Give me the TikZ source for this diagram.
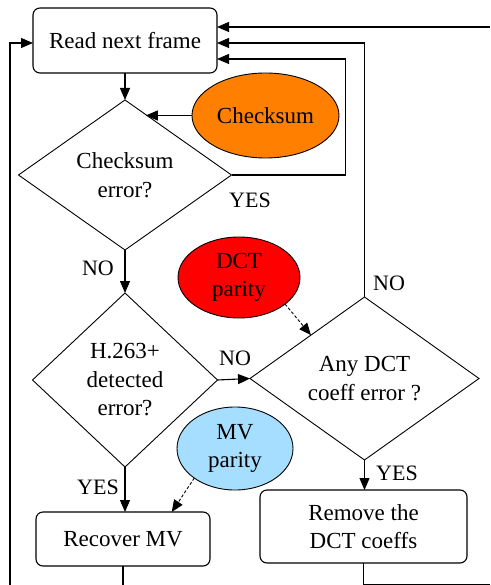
\documentclass[tikz,border=0pt]{standalone}
\usepackage{fontspec}
\setmainfont{LiberationSerif}[Extension=.ttf, UprightFont=*-Regular]
\usetikzlibrary{shapes.geometric,arrows.meta,calc}
\definecolor{csorange}{RGB}{255,128,0}
\definecolor{dctred}{RGB}{255,0,0}
\definecolor{mvblue}{RGB}{166,222,255}

\begin{document}
\begin{tikzpicture}[x=1pt,y=-1pt,
  font=\rmfamily\fontsize{23}{28.5}\selectfont,
  every node/.style={inner sep=0pt, outer sep=0pt},
  stepbox/.style={draw, rounded corners=7pt, line width=1.1pt, align=center},
  decision/.style={draw, diamond, aspect=1.4, line width=0.9pt, align=center},
  source/.style={draw, ellipse, line width=0.9pt, align=center},
  flow/.style={line width=1.1pt, -{Triangle[length=12pt,width=10pt]}},
  hint/.style={line width=0.9pt, dash pattern=on 3pt off 2pt, -{Triangle[length=12pt,width=10pt]}},
  tag/.style={font=\rmfamily\fontsize{22}{26}\selectfont}]
\useasboundingbox (0,0) rectangle (490,585);

% process boxes
\node[stepbox, minimum width=184pt, minimum height=65pt] (rf) at (125,40.5) {Read next frame};
\node[stepbox, minimum width=174pt, minimum height=54pt] (rm) at (123,539) {Recover MV};
\node[stepbox, minimum width=207pt, minimum height=73pt] (rd) at (363.5,526.5) {Remove the\\DCT coeffs};

% decisions
\node[decision, minimum width=213pt, minimum height=150pt] (cd) at (125,175) {Checksum\\error?};
\node[decision, aspect=1, minimum width=185pt, minimum height=174pt] (hd) at (125,380) {H.263+\\detected\\error?};
\node[decision, minimum width=229pt, minimum height=163pt] (dd) at (364.5,378.5) {Any DCT\\coeff error ?};

% side information sources
\node[source, fill=csorange, minimum width=147pt, minimum height=85pt] (cs) at (265.5,115.5) {Checksum};
\node[source, fill=dctred, minimum width=122pt, minimum height=81pt] (dp) at (239,277.5) {DCT\\parity};
\node[source, fill=mvblue, minimum width=116pt, minimum height=83pt] (mv) at (235,448.5) {MV\\parity};

% main flow
\draw[flow] (rf.south) -- (cd.north);
\draw[flow] (cs.west) -- (cs.west -| cd.71);
\draw[flow] (cd.south) -- (hd.north);
\draw[flow] (hd.south) -- (hd.south |- rm.north);
\draw[flow] (hd.east) -- (dd.west);
\draw[flow] (dd.south) -- (dd.south |- rd.north);
\draw[hint] (dp.-30) -- (dd.141);
\draw[hint] (mv.216) -- ($(rm.north west)!0.78!(rm.north east)$);

% feedback loops to the frame reader
\coordinate (backR) at (490,27);
\coordinate (backL) at (10,585);
\coordinate (backB) at (490,585);
\draw[flow] (cd.east) -- ++(114,0) |- ($(rf.east)+(0,18.5)$);
\draw[flow] (dd.north) |- ($(rf.east)+(0,2.5)$);
\draw[flow] (backR) -- (backR -| rf.east);
\draw[flow] (backL) |- ($(rf.west)+(0,2.5)$);
\draw[line width=1.1pt] (rm.south) -- (rm.south |- backL);
\draw[line width=1.1pt] (rd.south) |- (backB);

% branch labels
\node[tag] (l1) at (250,200) {YES};
\node[tag] (l2) at (98,268) {NO};
\node[tag] (l3) at (389,283) {NO};
\node[tag] (l4) at (235,358) {NO};
\node[tag] (l5) at (98,487) {YES};
\node[tag] (l6) at (397,473) {YES};
\end{tikzpicture}
\end{document}
